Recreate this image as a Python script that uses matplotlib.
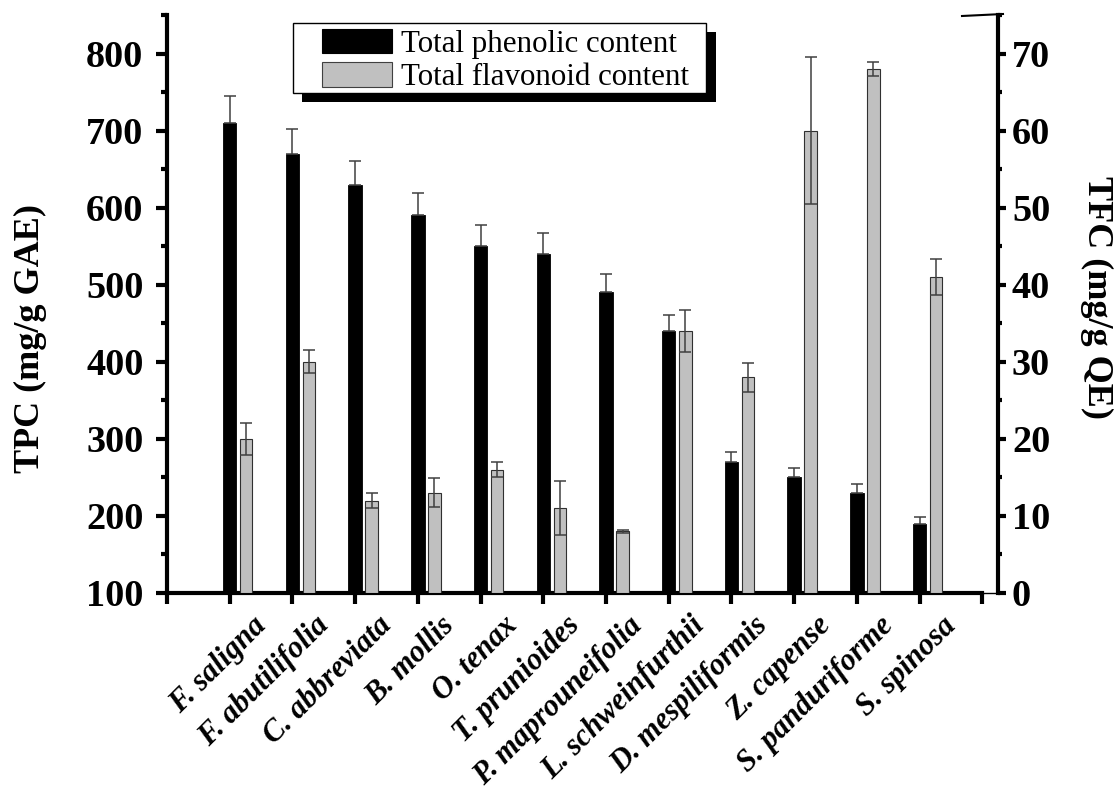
import matplotlib
matplotlib.use('Agg')
import matplotlib.pyplot as plt
import matplotlib.transforms as mtransforms
from matplotlib.patches import Patch, Rectangle
from matplotlib.lines import Line2D
from matplotlib.ticker import MultipleLocator

plt.rcParams['font.family'] = ['Liberation Serif', 'DejaVu Serif']

species = ['F. saligna', 'F. abutilifolia', 'C. abbreviata', 'B. mollis', 'O. tenax',
           'T. prunioides', 'P. maprouneifolia', 'L. schweinfurthii', 'D. mespiliformis',
           'Z. capense', 'S. panduriforme', 'S. spinosa']
tpc = [710, 670, 630, 590, 550, 540, 490, 440, 270, 250, 230, 190]
tpc_err = [35, 32, 30, 29, 28, 27, 24, 21, 13, 12, 11, 9]
tfc = [20, 30, 12, 13, 16, 11, 8, 34, 28, 60, 68, 41]
tfc_err = [2.1, 1.5, 1.0, 1.9, 1.0, 3.5, 0.2, 2.7, 1.9, 9.5, 0.9, 2.3]

W, H = 1115, 792
fig = plt.figure(figsize=(W / 100, H / 100), dpi=100)
ax = fig.add_axes([167 / W, 1 - 593 / H, 831 / W, 578 / H])
ax2 = ax.twinx()

pos = list(range(1, len(species) + 1))
pos2 = [p + 0.263 for p in pos]
err_kw = dict(ecolor='#404040', elinewidth=1.1, capsize=4.6, capthick=1.1)

# phenolic bars: only the upper half of the error bar shows
ax.bar(pos, [v - 100 for v in tpc], bottom=100, width=0.215, color='black',
       edgecolor='black', linewidth=0.6, yerr=[[0] * len(tpc), tpc_err],
       error_kw=err_kw, zorder=2)
ax2.bar(pos2, tfc, width=0.2, color='#c0c0c0', edgecolor='#303030', linewidth=0.8,
        yerr=tfc_err, error_kw=err_kw, zorder=2)

ax.set_xlim(0, 13.25)
ax.set_ylim(100, 850)
ax2.set_ylim(0, 75)

for a in (ax, ax2):
    a.spines['top'].set_visible(False)
    for s in a.spines.values():
        s.set_linewidth(3)
ax.spines['right'].set_visible(False)
ax2.spines['left'].set_visible(False)
ax2.spines['bottom'].set_visible(False)
ax.spines['bottom'].set_bounds(0, 13)
ax.plot([13 / 13.25, 1], [0, 0], transform=ax.transAxes, color='black', lw=1,
        clip_on=False)

ax.set_yticks(range(100, 801, 100))
ax.yaxis.set_minor_locator(MultipleLocator(50))
ax2.set_yticks(range(0, 71, 10))
ax2.yaxis.set_minor_locator(MultipleLocator(5))
ax.tick_params(axis='y', which='major', direction='out', length=8, width=3, pad=9,
               labelsize=27.5)
ax.tick_params(axis='y', which='minor', direction='out', length=4, width=3)
ax2.tick_params(axis='y', which='major', direction='out', length=6, width=3, pad=4,
                labelsize=27.5)
ax2.tick_params(axis='y', which='minor', direction='out', length=3, width=3)
for lab in ax.get_yticklabels() + ax2.get_yticklabels():
    lab.set_fontweight('bold')

ax.set_xticks(range(0, 14))
ax.set_xticklabels([''] + species + [''], rotation=45, ha='right', va='top',
                   rotation_mode='anchor', fontsize=22, fontweight='bold',
                   fontstyle='italic')
ax.tick_params(axis='x', direction='out', length=8, width=3, pad=5)
offset = mtransforms.ScaledTranslation(22 / 100, 0, fig.dpi_scale_trans)
for lab in ax.get_xticklabels():
    lab.set_transform(lab.get_transform() + offset)

ax.set_ylabel('TPC (mg/g GAE)', fontsize=26, fontweight='bold')
ax.yaxis.label.set_va('center')
ax.yaxis.set_label_coords(-0.1637, 0.441)
ax2.set_ylabel('TFC (mg/g QE)', fontsize=26, fontweight='bold', rotation=270)
ax2.yaxis.label.set_va('center')
ax2.yaxis.set_label_coords(1.1185, 0.511)

# legend box with a solid drop shadow
fig.patches.append(Rectangle((302 / W, 1 - 101.7 / H), 414 / W, 70 / H,
                             transform=fig.transFigure, facecolor='black',
                             edgecolor='none', zorder=2))
fig.patches.append(Rectangle((293 / W, 1 - 93.3 / H), 413 / W, 70.6 / H,
                             transform=fig.transFigure, facecolor='white',
                             edgecolor='black', linewidth=1, zorder=3))
handles = [Patch(facecolor='black', edgecolor='black', linewidth=0.8),
           Patch(facecolor='#c0c0c0', edgecolor='#404040', linewidth=0.8)]
fig.legend(handles, ['Total phenolic content', 'Total flavonoid content'],
           loc='upper left', bbox_to_anchor=(322 / W, 1 - 29 / H),
           bbox_transform=fig.transFigure, frameon=False, fontsize=22.3,
           borderpad=0, borderaxespad=0, handlelength=2.26, handleheight=0.84,
           handletextpad=0.29, labelspacing=0.1)

fig.add_artist(Line2D([962 / W, 1003 / W], [1 - 16 / H, 1 - 14 / H],
                      transform=fig.transFigure, color='black', lw=1.5))

fig.savefig('out.png', dpi=100)
